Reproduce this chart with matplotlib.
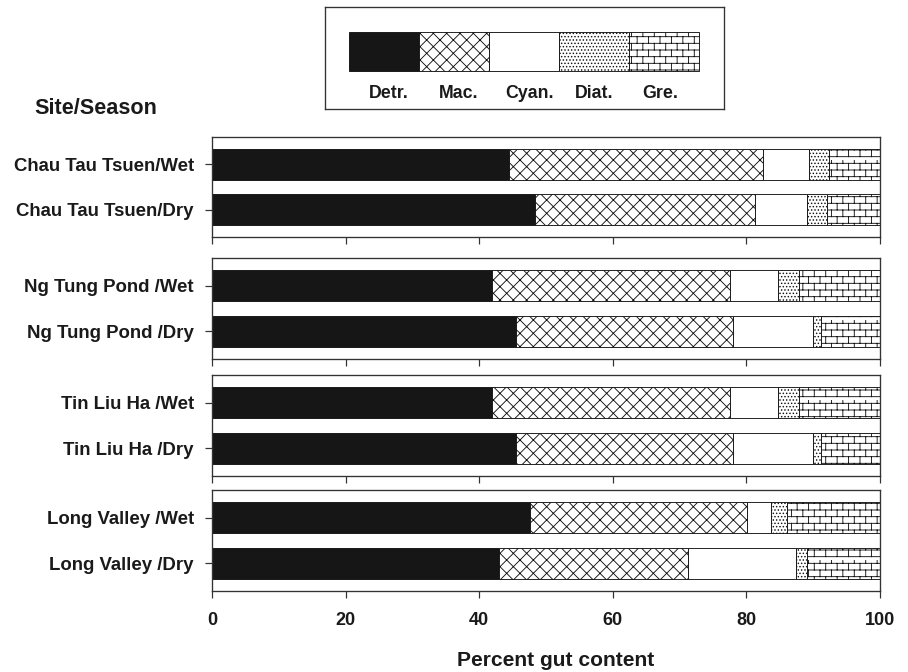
import warnings
import numpy as np
import matplotlib
matplotlib.use("Agg")
import matplotlib.pyplot as plt
from matplotlib import hatch as mhatch
from matplotlib.path import Path

warnings.filterwarnings("ignore")

# data (percent of gut content)
sites = ["Chau Tau Tsuen", "Ng Tung Pond ", "Tin Liu Ha ", "Long Valley "]
seasons = ["Wet", "Dry"]
components = ["Detr.", "Mac.", "Cyan.", "Diat.", "Gre."]

detr = [[44.5, 48.4], [41.9, 45.5], [41.9, 45.5], [47.6, 43.0]]
mac = [[38.0, 32.9], [35.7, 32.5], [35.7, 32.5], [32.5, 28.3]]
cyan = [[6.9, 7.7], [7.2, 11.9], [7.2, 11.9], [3.6, 16.1]]
diat = [[3.0, 3.1], [3.1, 1.3], [3.1, 1.3], [2.4, 1.6]]
gre = [[7.6, 7.9], [12.1, 8.8], [12.1, 8.8], [13.9, 11.0]]

xticks = [0, 20, 40, 60, 80, 100]


# brick hatch for the "Gre." component (not built in, so register one)
class BrickHatch(mhatch.HatchPatternBase):
    filled = False

    def __init__(self, hatch, density):
        self.rows, self.cols = 12, 7
        self.num_vertices = self.rows * (self.cols + 1) * 2 if "b" in hatch else 0

    def set_vertices_and_codes(self, vertices, codes):
        pts = []
        for r in range(self.rows):
            y0 = (r + 0.5) / self.rows
            y1 = (r + 1.5) / self.rows
            pts += [(0, y0), (1, y0)]
            off = 0.5 / self.cols if r % 2 else 0.0
            for c in range(self.cols):
                x = c / self.cols + off + 0.25 / self.cols
                pts += [(x, y0), (x, y1)]
        vertices[:] = np.array(pts)
        codes[0::2] = Path.MOVETO
        codes[1::2] = Path.LINETO


mhatch._hatch_types.append(BrickHatch)

plt.rcParams["font.family"] = ["Liberation Sans", "DejaVu Sans"]
plt.rcParams["font.weight"] = "bold"
plt.rcParams["hatch.linewidth"] = 0.8
plt.rcParams["hatch.color"] = "#111111"

colors = ["#161616", "white", "white", "white", "white"]
hatches = [None, "xx", None, "....", "b"]
series = [detr, mac, cyan, diat, gre]

W, H = 908, 672
fig = plt.figure(figsize=(W / 80, H / 80), dpi=80)

panels = [(137, 237), (258, 359), (375, 476), (490, 591)]
ypos = [1, 0]

for i, site in enumerate(sites):
    top, bot = panels[i]
    ax = fig.add_axes([212 / W, 1 - bot / H, 668 / W, (bot - top) / H])
    left = np.zeros(2)
    for k, comp in enumerate(components):
        vals = np.array(series[k][i])
        ax.barh(ypos, vals, left=left, height=0.68, color=colors[k],
                hatch=hatches[k], edgecolor="#111111", linewidth=0.8)
        left += vals
    ax.set_xlim(0, 100)
    ax.set_ylim(-0.6, 1.6)
    ax.set_yticks(ypos)
    ax.set_yticklabels([f"{site}/{s}" for s in seasons], fontsize=16.8,
                       fontweight="bold", color="#1a1a1a")
    ax.set_xticks(xticks)
    if i == len(sites) - 1:
        ax.set_xticklabels([str(t) for t in xticks], fontsize=16.2,
                           fontweight="bold", color="#1a1a1a")
    else:
        ax.set_xticklabels([])
    ax.tick_params(axis="x", length=6.3, width=1.1, pad=12.5, color="#333333")
    ax.tick_params(axis="y", length=6.3, width=1.1, pad=10, color="#333333")
    for sp in ax.spines.values():
        sp.set_linewidth(1.2)
        sp.set_color("#333333")

# legend box drawn by hand
lg = fig.add_axes([325 / W, 1 - 109 / H, 399 / W, 102 / H])
lg.set_xlim(0, 399)
lg.set_ylim(102, 0)
lg.set_xticks([])
lg.set_yticks([])
for sp in lg.spines.values():
    sp.set_linewidth(1.2)
    sp.set_color("#333333")
centers = 24 + 35 + 70 * np.arange(len(components))
shift = [5, 5, 5, 0, -4]
for k, comp in enumerate(components):
    lg.bar(centers[k], 39, bottom=25, width=70, color=colors[k],
           hatch=hatches[k], edgecolor="#111111", linewidth=0.8)
    lg.text(centers[k] + shift[k], 86, comp, ha="center", va="center",
            fontsize=16, fontweight="bold", color="#1a1a1a")

fig.text(34 / W, 1 - 108 / H, "Site/Season", ha="left", va="center",
         fontsize=19.5, fontweight="bold", color="#1a1a1a")
fig.text(556 / W, 1 - 666.5 / H, "Percent gut content", ha="center",
         va="baseline", fontsize=18.9, fontweight="bold", color="#1a1a1a")

fig.savefig("out.png", dpi=80)
